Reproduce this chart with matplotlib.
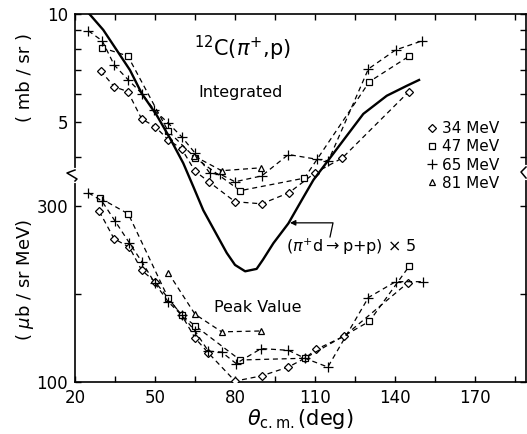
import matplotlib
matplotlib.use('Agg')
import matplotlib.pyplot as plt
from matplotlib.lines import Line2D
from matplotlib.ticker import FixedLocator, NullLocator

plt.rcParams['font.family'] = 'DejaVu Sans'
plt.rcParams['mathtext.fontset'] = 'dejavusans'

# integrated cross sections (mb/sr), top part, log scale
theta_34_int = [29.6, 34.7, 39.8, 45.0, 50.0, 55.0, 60.0, 65.0, 70.4, 80.0, 90.0, 100.3, 110.0, 120.2, 145.2]
int_34 = [6.95, 6.27, 6.08, 5.10, 4.86, 4.46, 4.21, 3.65, 3.40, 3.00, 2.96, 3.18, 3.61, 3.97, 6.08]
theta_47_int = [30.0, 39.8, 54.9, 65.0, 81.9, 106.0, 130.4, 145.4]
int_47 = [8.06, 7.64, 4.72, 3.98, 3.22, 3.49, 6.48, 7.64]
theta_65_int = [25.0, 30.2, 34.7, 40.0, 45.2, 49.7, 54.8, 60.0, 65.0, 70.6, 74.4, 80.0, 90.0,
                100.0, 110.6, 115.0, 130.0, 140.2, 150.2]
int_65 = [8.98, 8.42, 7.21, 6.55, 5.99, 5.40, 4.98, 4.55, 4.10, 3.60, 3.58, 3.41, 3.54,
          4.06, 3.94, 3.90, 7.03, 7.94, 8.42]
theta_81_int = [64.7, 75.0, 89.9]
int_81 = [4.02, 3.66, 3.73]

# peak values (ub/sr MeV), bottom part, linear scale
theta_34_pk = [29.1, 34.6, 40.4, 45.0, 50.0, 60.0, 65.0, 70.0, 80.0, 90.0, 100.0, 106.2, 110.4, 120.9, 144.9]
pk_34 = [294, 263, 253, 227, 214, 176, 150, 133, 101, 107, 117, 127, 137, 152, 213]
theta_47_pk = [29.4, 40.0, 55.0, 60.0, 65.0, 81.9, 106.2, 130.4, 145.4]
pk_47 = [309, 291, 195, 176, 164, 125, 127, 169, 232]
theta_65_pk = [25.0, 30.0, 35.0, 40.4, 45.2, 50.0, 55.0, 60.0, 65.0, 70.0, 75.0, 80.4, 89.8,
               100.0, 106.2, 114.8, 130.0, 140.2, 150.4]
pk_65 = [315, 306, 283, 258, 236, 212, 191, 176, 158, 135, 134, 121, 138,
         136, 127, 117, 196, 214, 214]
theta_81_pk = [55.0, 65.0, 75.0, 89.9]
pk_81 = [224, 177, 157, 158]

# pi+ d -> p + p (x5), on the mb/sr log scale
theta_pd = [25.4, 30.6, 35.6, 40.6, 45.0, 50.6, 55.6, 60.6, 64.4, 68.1, 76.9, 80.0, 83.8, 88.1,
            90.5, 94.4, 100.0, 105.0, 109.4, 115.6, 121.9, 128.1, 136.9, 144.4, 149.0]
sig_pd = [10.0, 9.03, 7.94, 6.98, 6.01, 5.23, 4.51, 3.84, 3.30, 2.84, 2.16, 2.00, 1.92, 1.95,
          2.07, 2.30, 2.61, 3.03, 3.45, 3.97, 4.58, 5.27, 5.92, 6.31, 6.55]

x_ticks = [20, 35, 50, 65, 80, 95, 110, 125, 140, 155, 170, 185]
x_labels = ['20', '', '50', '', '80', '', '110', '', '140', '', '170', '']
energies = ['34 MeV', '47 MeV', '65 MeV', '81 MeV']

# estilos das series
styles = [dict(marker='D', ms=4.2), dict(marker='s', ms=4.0),
          dict(marker='+', ms=6.5), dict(marker='^', ms=5.0)]

fig = plt.figure(figsize=(5.27, 4.34), dpi=100)
rect = [75 / 527, 52 / 434, 451 / 527, 368 / 434]
ax = fig.add_axes(rect)
ax2 = fig.add_axes(rect, sharex=ax)
ax2.patch.set_visible(False)

ax.set_xlim(20, 189.1)
ax.set_yscale('log')
ax.set_ylim(0.944, 10)
ax2.set_ylim(100, 518.2)

dash = dict(color='black', lw=0.9, linestyle=(0, (4, 3)), mfc='white', mec='black', mew=0.9)

# parte de cima (integrado)
tops = [(theta_34_int, int_34), (theta_47_int, int_47), (theta_65_int, int_65), (theta_81_int, int_81)]
for (th, v), st in zip(tops, styles):
    ax.plot(th, v, **dash, **st)

ax.plot(theta_pd, sig_pd, color='black', lw=1.7, zorder=3)

# parte de baixo (pico)
bots = [(theta_34_pk, pk_34), (theta_47_pk, pk_47), (theta_65_pk, pk_65), (theta_81_pk, pk_81)]
for (th, v), st in zip(bots, styles):
    ax2.plot(th, v, **dash, **st)

# ticks
ax.xaxis.set_major_locator(FixedLocator(x_ticks))
ax.set_xticklabels(x_labels)
ax.yaxis.set_major_locator(FixedLocator([4, 5, 6, 7, 8, 9, 10]))
ax.yaxis.set_minor_locator(NullLocator())
ax.set_yticklabels(['', '5', '', '', '', '', '10'])
ax2.yaxis.set_major_locator(FixedLocator([100, 200, 300]))
ax2.set_yticklabels(['100', '', '300'])
for a in (ax, ax2):
    a.tick_params(which='both', direction='in', length=4.5, width=1.0, labelsize=12,
                  top=True, right=True, pad=5)
ax2.tick_params(axis='x', bottom=False, top=False, labelbottom=False)
for s in ax2.spines.values():
    s.set_visible(False)
for s in ax.spines.values():
    s.set_linewidth(1.2)

# quebra do eixo
def fx(px):
    return (px - 75) / 451

def fy(py):
    return (382 - py) / 368

for xs, ys in [([75, 75], [170, 181]), ([526, 526], [167, 178])]:
    ax.plot([fx(x) for x in xs], [fy(y) for y in ys], color='white', lw=3,
            transform=ax.transAxes, clip_on=False, zorder=5)
ax.plot([fx(75), fx(67), fx(77), fx(75)], [fy(170), fy(173), fy(179), fy(181)], color='black',
        lw=1.1, transform=ax.transAxes, clip_on=False, zorder=6)
ax.plot([fx(526), fx(521), fx(526)], [fy(167), fy(172), fy(178)], color='black',
        lw=1.1, transform=ax.transAxes, clip_on=False, zorder=6)

# textos
ax.text(fx(242), fy(48), r'$^{12}$C($\pi^{+}$,p)', fontsize=15, ha='center', va='center',
        transform=ax.transAxes)
ax.text(fx(241), fy(93), 'Integrated', fontsize=11.5, ha='center', va='center',
        transform=ax.transAxes)
ax.text(fx(258), fy(308), 'Peak Value', fontsize=11.5, ha='center', va='center',
        transform=ax.transAxes)
ax.text(fx(351), fy(247), r'($\pi^{+}$d$\rightarrow$p+p) $\times$ 5', fontsize=11.5,
        ha='center', va='center', transform=ax.transAxes)
ax.annotate('', xy=(100.6, 2.62), xytext=(115.6, 2.39),
            arrowprops=dict(arrowstyle='-|>', color='black', lw=0.9, mutation_scale=8,
                            shrinkA=0, shrinkB=0,
                            connectionstyle='angle,angleA=78,angleB=0,rad=0'))

# legenda so com marcadores
handles = [Line2D([], [], color='black', linestyle='', mfc='white', mew=0.9, **st) for st in styles]
ax.legend(handles, energies, loc='center left', bbox_to_anchor=(fx(427), fy(156)),
          frameon=False, fontsize=11, handlelength=0.6, handletextpad=0.35,
          borderpad=0, borderaxespad=0, labelspacing=0.2)

ax.set_xlabel(r'$\theta_{\rm c.m.}$(deg)', fontsize=15, labelpad=0)
fig.text(25 / 527, (434 - 78) / 434, '( mb / sr )', rotation=90, fontsize=13,
         ha='center', va='center')
fig.text(25 / 527, (434 - 280) / 434, r'( $\mu$b / sr MeV)', rotation=90, fontsize=13,
         ha='center', va='center')

fig.savefig('out.png', dpi=100)
